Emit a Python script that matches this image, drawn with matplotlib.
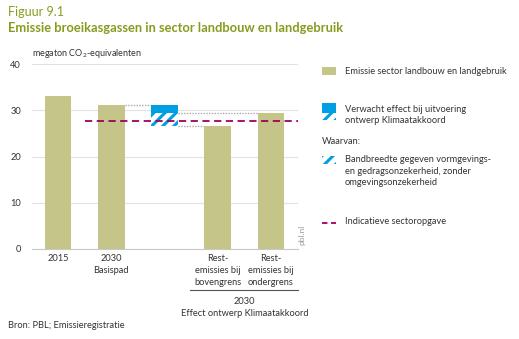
import numpy as np
import matplotlib
matplotlib.use('Agg')
import matplotlib.pyplot as plt
from matplotlib.patches import Rectangle
from matplotlib.lines import Line2D
import matplotlib.transforms as mtransforms

plt.rcParams['font.family'] = ['Lato', 'DejaVu Sans']
plt.rcParams['mathtext.fontset'] = 'custom'
plt.rcParams['mathtext.rm'] = 'Lato'
plt.rcParams['mathtext.it'] = 'Lato'
plt.rcParams['hatch.linewidth'] = 2.2

# data
labels = ['2015', '2030\nBasispad', '', 'Rest-\nemissies bij\nbovengrens', 'Rest-\nemissies bij\nondergrens']
values = [33.0, 31.1, np.nan, 26.5, 29.4]
effect_top = 31.1        # basispad 2030
effect_min = 29.4        # kleinste effect (ondergrens)
effect_max = 26.5        # grootste effect (bovengrens)
target = 27.7            # indicatieve sectoropgave

c_bar = '#c5c589'
c_blue = '#009fe3'
c_target = '#a0005f'
c_title = '#8a9a1f'
c_text = '#333333'
fs = 6.7

W, H = 519, 339
fig = plt.figure(figsize=(W / 100, H / 100), dpi=100, facecolor='white')

def fx(px):
    return px / W

def fy(py):
    return 1 - py / H

ax = fig.add_axes([fx(32), fy(249), fx(298) - fx(32), fy(64) - fy(249)])
x = np.arange(len(labels))
ax.bar(x, values, width=0.5, color=c_bar, linewidth=0, zorder=3)

# effect ontwerp Klimaatakkoord
ax.bar(2, effect_top - effect_min, bottom=effect_min, width=0.5, color=c_blue, linewidth=0, zorder=3)
ax.bar(2, effect_min - effect_max, bottom=effect_max, width=0.5, facecolor='white',
       edgecolor=c_blue, linewidth=0, hatch='///', zorder=3)

# stippellijnen
dot = dict(color='#aaaaaa', linestyle=(0, (1, 1)), linewidth=1.0, zorder=2)
ax.plot([1.25, 1.75], [effect_top, effect_top], **dot)
ax.plot([2.25, 3.75], [effect_min, effect_min], **dot)
ax.plot([2.25, 2.75], [effect_max, effect_max], **dot)

ax.plot([0.51, 4.51], [target, target], color=c_target, linestyle=(0, (4, 2.5)), linewidth=1.3, zorder=4)

ax.set_xlim(-0.49, 4.51)
ax.set_ylim(0, 40)
ax.set_yticks([0, 10, 20, 30, 40])
ax.grid(axis='y', color='#e2e2e2', linewidth=0.8, zorder=0)
for s in ['top', 'right', 'left']:
    ax.spines[s].set_visible(False)
ax.spines['bottom'].set_color('#c8c8c8')
ax.spines['bottom'].set_linewidth(0.8)
ax.tick_params(axis='both', length=0, labelsize=fs, colors=c_text)
ax.tick_params(axis='x', pad=3.5)
ax.tick_params(axis='y', pad=8)
ax.set_xticks(x)
ax.set_xticklabels(labels, linespacing=1.45)

# groep-label onder de as
trans = mtransforms.blended_transform_factory(ax.transData, ax.transAxes)
ax.plot([2.48, 4.51], [-0.222, -0.222], color='#555555', linewidth=0.8, transform=trans, clip_on=False)
ax.text(3.5, -0.262, '2030\nEffect ontwerp Klimaatakkoord', transform=trans, ha='center', va='top',
        fontsize=fs, color=c_text, linespacing=1.3)

ax.text(fx(302), fy(235), 'pbl.nl', rotation=90, transform=fig.transFigure, fontsize=6,
        color='#999999', ha='center', va='center')

# titels
fig.text(fx(8), fy(12), 'Figuur 9.1', fontsize=9, color=c_title, va='center', ha='left')
fig.text(fx(8), fy(28), 'Emissie broeikasgassen in sector landbouw en landgebruik', fontsize=9.3,
         fontweight='bold', color=c_title, va='center', ha='left')
fig.text(fx(32), fy(53), 'megaton CO$_2$-equivalenten', fontsize=6.5, color=c_text, va='center', ha='left')
fig.text(fx(8), fy(325), 'Bron: PBL; Emissieregistratie', fontsize=fs, color=c_text, va='center', ha='left')

# legenda
lx, lw, tx = 322, 14, 345
fig.add_artist(Rectangle((fx(lx), fy(75)), fx(lw), fy(67) - fy(75), transform=fig.transFigure,
                         facecolor=c_bar, linewidth=0))
fig.text(fx(tx), fy(71), 'Emissie sector landbouw en landgebruik', fontsize=fs, color=c_text, va='center')

fig.add_artist(Rectangle((fx(lx), fy(113)), fx(lw), fy(103) - fy(113), transform=fig.transFigure,
                         facecolor=c_blue, linewidth=0))
fig.add_artist(Rectangle((fx(lx), fy(120)), fx(lw), fy(113) - fy(120), transform=fig.transFigure,
                         facecolor='white', edgecolor=c_blue, linewidth=0, hatch='///'))
fig.text(fx(tx), fy(115), 'Verwacht effect bij uitvoering\nontwerp Klimaatakkoord', fontsize=fs,
         color=c_text, va='center', linespacing=1.4)

fig.text(fx(lx), fy(142), 'Waarvan:', fontsize=fs, color=c_text, va='center')
fig.add_artist(Rectangle((fx(lx), fy(164)), fx(lw), fy(156) - fy(164), transform=fig.transFigure,
                         facecolor='white', edgecolor=c_blue, linewidth=0, hatch='///'))
fig.text(fx(tx), fy(171), 'Bandbreedte gegeven vormgevings-\nen gedragsonzekerheid, zonder\nomgevingsonzekerheid',
         fontsize=fs, color=c_text, va='center', linespacing=1.4)

fig.add_artist(Line2D([fx(lx), fx(lx + lw)], [fy(222.5), fy(222.5)], transform=fig.transFigure,
                      color=c_target, linestyle=(0, (3, 2)), linewidth=1.3))
fig.text(fx(tx), fy(222), 'Indicatieve sectoropgave', fontsize=fs, color=c_text, va='center')

fig.savefig('out.png', dpi=100, facecolor='white')
